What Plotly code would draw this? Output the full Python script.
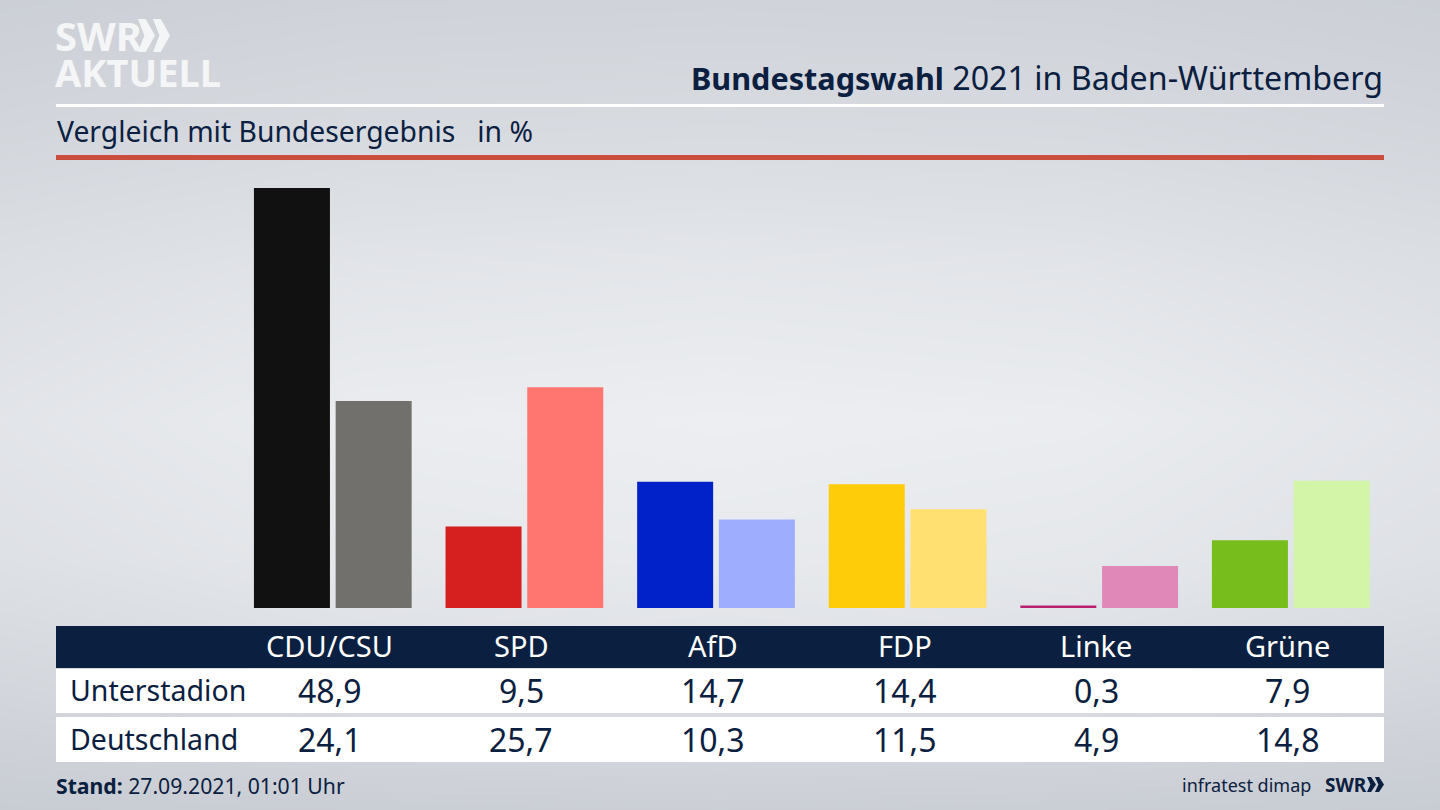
import plotly.graph_objects as go

WIDTH = 1440
HEIGHT = 810
FONT = 'Noto Sans'
NAVY = '#0b2040'

parties = ['CDU/CSU', 'SPD', 'AfD', 'FDP', 'Linke', 'Grüne']
unterstadion = [48.9, 9.5, 14.7, 14.4, 0.3, 7.9]
deutschland = [24.1, 25.7, 10.3, 11.5, 4.9, 14.8]
unterstadion_labels = ['48,9', '9,5', '14,7', '14,4', '0,3', '7,9']
deutschland_labels = ['24,1', '25,7', '10,3', '11,5', '4,9', '14,8']
colors_dark = ['#111111', '#d61f1f', '#0022c8', '#ffcc0a', '#b9206e', '#77bd1c']
colors_light = ['#72706c', '#ff7570', '#9fadff', '#ffe070', '#e088b8', '#d3f5a8']

# backdrop, light in the middle and darker towards the edges
bg_x = [0, 360, 720, 1080, 1440]
bg_y = [0, 135, 270, 420, 560, 690, 810]
bg_z = [
    [0.10, 0.20, 0.22, 0.20, 0.10],
    [0.30, 0.42, 0.45, 0.42, 0.30],
    [0.55, 0.72, 0.78, 0.72, 0.55],
    [0.72, 0.95, 1.00, 0.95, 0.72],
    [0.60, 0.80, 0.88, 0.80, 0.60],
    [0.30, 0.50, 0.55, 0.50, 0.30],
    [0.00, 0.05, 0.08, 0.05, 0.00],
]


def px(x):
    return x / WIDTH


def py(y):
    return 1 - y / HEIGHT


def rect(x0, y0, x1, y1, color):
    return dict(type='rect', xref='paper', yref='paper', x0=px(x0), x1=px(x1),
                y0=py(y1), y1=py(y0), fillcolor=color, line_width=0, layer='above')


def chevrons(x, y, w, h, color):
    # two arrow heads of the SWR logo
    shapes = []
    for offset in [0, w * 0.47]:
        pts = [(x + offset, y), (x + offset + w * 0.24, y), (x + offset + w * 0.53, y + h / 2),
               (x + offset + w * 0.24, y + h), (x + offset, y + h), (x + offset + w * 0.2, y + h / 2)]
        path = 'M ' + ' L '.join(f'{px(a):.5f},{py(b):.5f}' for a, b in pts) + ' Z'
        shapes.append(dict(type='path', xref='paper', yref='paper', path=path,
                           fillcolor=color, line_width=0, layer='above'))
    return shapes


def label(x, y, text, size, color=NAVY, anchor='left', **kwargs):
    return dict(xref='paper', yref='paper', x=px(x), y=py(y), text=text, showarrow=False,
                xanchor=anchor, yanchor='middle', font=dict(family=FONT, size=size, color=color),
                **kwargs)


fig = go.Figure()

fig.add_trace(go.Heatmap(x=bg_x, y=bg_y, z=bg_z, zsmooth='best', showscale=False, hoverinfo='skip',
                         colorscale=[[0, '#c8ccd3'], [1, '#eceef1']], xaxis='x', yaxis='y'))
fig.add_trace(go.Bar(x=parties, y=unterstadion, name='Unterstadion', marker_color=colors_dark,
                     marker_line_width=0, xaxis='x2', yaxis='y2'))
fig.add_trace(go.Bar(x=parties, y=deutschland, name='Deutschland', marker_color=colors_light,
                     marker_line_width=0, xaxis='x2', yaxis='y2'))

shapes = [
    rect(56, 104, 1384, 107, '#ffffff'),
    rect(56, 155, 1384, 160, '#c94f3c'),
    rect(56, 626, 1384, 668, NAVY),
    rect(56, 669, 1384, 713, '#ffffff'),
    rect(56, 717, 1384, 762, '#ffffff'),
]
shapes += chevrons(138, 19, 32, 33, '#f4f5f6')
shapes += chevrons(1367, 777, 17, 15, NAVY)

title = '<span style="font-size:30.6px"><b>Bundestagswahl</b></span> 2021 in Baden-Württemberg'
annotations = [
    label(53, 35, '<b>SWR</b>', 40, '#f4f5f6', height=36),
    label(53, 72, '<b>AKTUELL</b>', 38, '#f4f5f6', height=36),
    label(1385, 77, title, 32.2, anchor='right'),
    label(55, 131, 'Vergleich mit Bundesergebnis&nbsp;&nbsp; in %', 28.3),
    label(68, 690, 'Unterstadion', 28.5),
    label(68, 739, 'Deutschland', 28.5),
    label(54, 785, '<b>Stand:</b> 27.09.2021, 01:01 Uhr', 21.2),
    label(1313, 785, 'infratest dimap', 18, anchor='right'),
    label(1323, 785, '<b>SWR</b>', 19),
]

# table columns follow the category axis of the bars
for i, party in enumerate(parties):
    for y, text, color, size in [(645, party, '#ffffff', 29),
                                 (690, unterstadion_labels[i], NAVY, 32),
                                 (739, deutschland_labels[i], NAVY, 32)]:
        annotations.append(dict(xref='x2', yref='paper', x=party, xshift=-3, y=py(y), text=text,
                                showarrow=False, xanchor='center', yanchor='middle',
                                font=dict(family=FONT, size=size, color=color)))

fig.update_layout(
    width=WIDTH,
    height=HEIGHT,
    margin=dict(l=0, r=0, t=0, b=0),
    paper_bgcolor='#dcdfe3',
    plot_bgcolor='rgba(0,0,0,0)',
    showlegend=False,
    barmode='group',
    bargap=0.147,
    bargroupgap=0.07,
    shapes=shapes,
    annotations=annotations,
    xaxis=dict(domain=[0, 1], range=[0, 1440], visible=False),
    yaxis=dict(domain=[0, 1], range=[810, 0], visible=False),
    xaxis2=dict(domain=[px(237), px(1386.6)], anchor='y2', visible=False,
                categoryorder='array', categoryarray=parties),
    yaxis2=dict(domain=[py(608), py(160)], range=[0, 52.15], anchor='x2', visible=False),
)

fig.write_html('out.html', config=dict(displayModeBar=False),
               post_script="document.body.style.margin='0';")
